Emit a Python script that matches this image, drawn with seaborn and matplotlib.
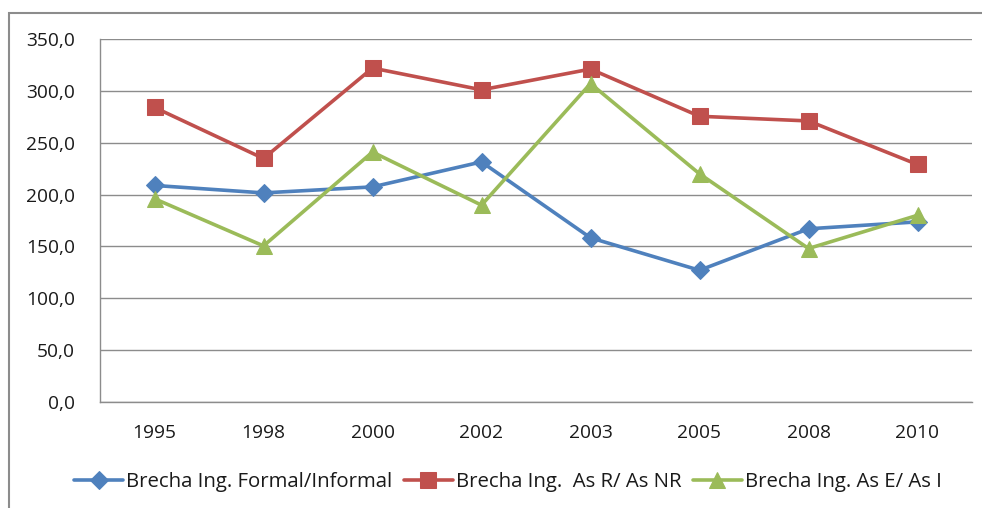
import matplotlib
matplotlib.use("Agg")
import matplotlib.pyplot as plt
import seaborn as sns
import pandas as pd
from matplotlib.patches import Rectangle
from matplotlib.ticker import FuncFormatter

years = ["1995", "1998", "2000", "2002", "2003", "2005", "2008", "2010"]
formal_informal = [208.8, 201.6, 207.4, 231.5, 158.3, 127.0, 167.0, 173.7]
as_r_as_nr = [284.0, 234.8, 322.0, 301.0, 321.0, 275.5, 271.0, 229.0]
as_e_as_i = [196.0, 150.5, 241.0, 189.8, 307.0, 220.0, 148.0, 180.0]

series_names = ["Brecha Ing. Formal/Informal", "Brecha Ing.  As R/ As NR", "Brecha Ing. As E/ As I"]
series_values = [formal_informal, as_r_as_nr, as_e_as_i]
colors = ["#4F81BD", "#C0504D", "#9BBB59"]
markers = ["D", "s", "^"]
msizes = [9, 11, 11]

sns.set_theme(style="white")
plt.rcParams['font.family'] = ['Open Sans', 'DejaVu Sans']

fig = plt.figure(figsize=(9.82, 5.08), dpi=100)
ax = fig.add_axes([100/982, 1-402/508, 872/982, (402-39)/508])

for name, vals, c, m, ms in zip(series_names, series_values, colors, markers, msizes):
    df = pd.DataFrame({"year": years, "value": vals})
    sns.lineplot(data=df, x="year", y="value", ax=ax, color=c, marker=m,
                 markersize=ms, markeredgecolor=c, linewidth=2.6, sort=False,
                 label=name)

ax.set_xlim(-0.5, 7.5)
ax.set_ylim(0, 350)
ax.set_yticks(range(0, 351, 50))
ax.yaxis.set_major_formatter(FuncFormatter(lambda v, p: f"{v:.1f}".replace(".", ",")))
ax.grid(axis="y", color="#8C8C8C", linewidth=1.0)
ax.grid(axis="x", visible=False)
ax.set_axisbelow(True)
for s in ["top", "right"]:
    ax.spines[s].set_visible(False)
for s in ["left", "bottom"]:
    ax.spines[s].set_color("#8C8C8C")
    ax.spines[s].set_linewidth(1.0)
ax.set_xlabel("")
ax.set_ylabel("")
ax.tick_params(axis="both", labelsize=13.8, colors="#1a1a1a", length=0)
ax.tick_params(axis="y", pad=18)
ax.tick_params(axis="x", pad=16)

leg = ax.legend(loc="center", bbox_to_anchor=(508/982, 1-482/508),
                bbox_transform=fig.transFigure, ncol=3, frameon=False,
                fontsize=14.7, handlelength=2.4, columnspacing=0.55,
                handletextpad=0.15, borderaxespad=0)
for t in leg.get_texts():
    t.set_color("#1a1a1a")

fig.patches.append(Rectangle((9/982, -0.1), 1.2, 1 - 13/508 + 0.1,
                             transform=fig.transFigure, fill=False,
                             edgecolor="#8C8C8C", linewidth=1.5))

fig.savefig("out.png", dpi=100)
